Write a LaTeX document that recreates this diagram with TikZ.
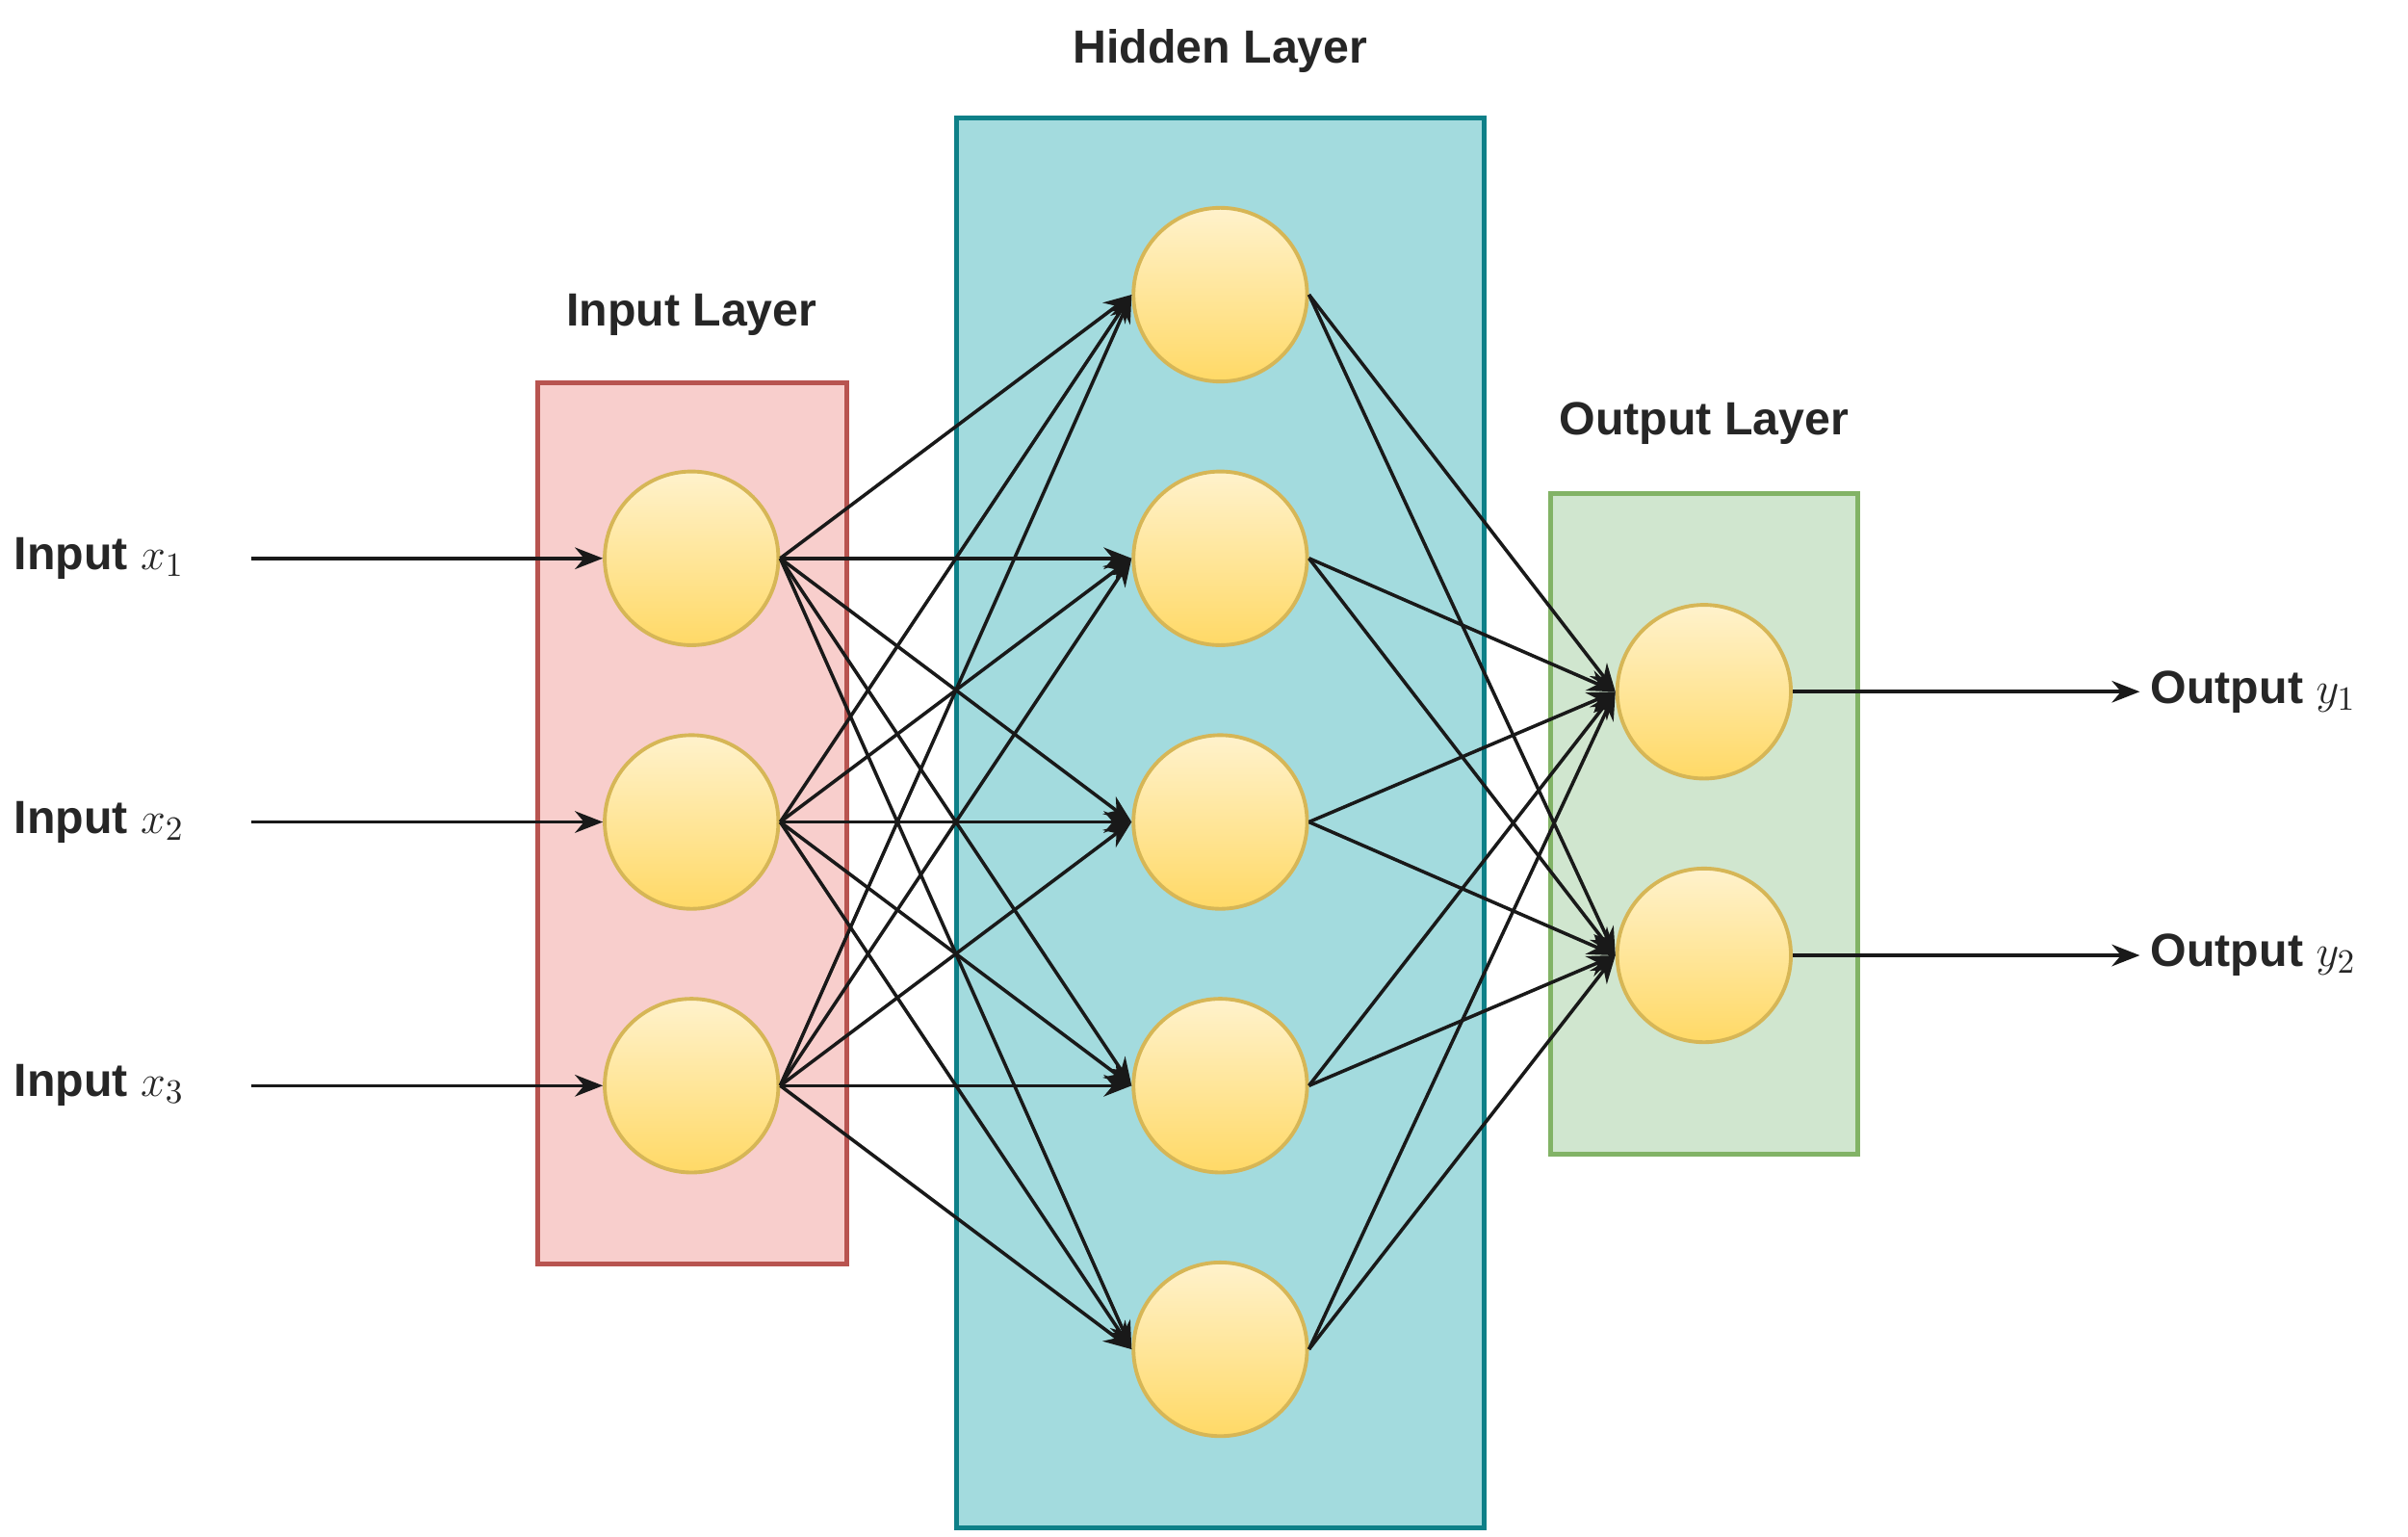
\documentclass[tikz,border=0pt]{standalone}
\usepackage{fontspec}
\setmainfont{Liberation Sans}
\usetikzlibrary{arrows.meta}
\definecolor{nfill1}{HTML}{FFF2CC}
\definecolor{nfill2}{HTML}{FFD966}
\definecolor{nline}{HTML}{D6B656}
\definecolor{inF}{HTML}{F8CECC}\definecolor{inL}{HTML}{B85450}
\definecolor{hiF}{HTML}{A3DBDE}\definecolor{hiL}{HTML}{0E8088}
\definecolor{ouF}{HTML}{D0E6CF}\definecolor{ouL}{HTML}{82B366}
\begin{document}
\begin{tikzpicture}[x=0.5pt,y=-0.5pt,
 neuron/.style={circle,minimum size=56pt,inner sep=0pt,draw=nline,line width=1.2pt,top color=nfill1,bottom color=nfill2},
 layer/.style={line width=1.5pt},
 lbl/.style={font=\bfseries\fontsize{15}{18}\selectfont,text=black!85},
 conn/.style={-{Stealth[length=9pt,width=7pt]},line width=1.1pt,black!90}]
\useasboundingbox (0,0) rectangle (1553,991);
\filldraw[layer,fill=inF,draw=inL] (347,247) rectangle (546,815);
\filldraw[layer,fill=hiF,draw=hiL] (617,76) rectangle (957,985);
\filldraw[layer,fill=ouF,draw=ouL] (1000,318) rectangle (1198,744);
\node[lbl] (tI) at (446,203) {Input Layer};
\node[lbl] (tH) at (787,33) {Hidden Layer};
\node[lbl] (tO) at (1099,273) {Output Layer};
\foreach \i/\y in {1/360,2/530,3/700}{
 \node[neuron] (i\i) at (446,\y) {};
 \node[lbl,anchor=west] (x\i) at (2,\y) {Input $x_{\i}$};
 \coordinate (s\i) at (162,\y);
 \draw[conn] (s\i) -- (i\i.west);
}
\foreach \j/\y in {1/190,2/360,3/530,4/700,5/870}{
 \node[neuron] (h\j) at (787,\y) {};
}
\foreach \k/\y in {1/446,2/616}{
 \node[neuron] (o\k) at (1099,\y) {};
 \node[lbl,anchor=west] (y\k) at (1380,\y) {Output $y_{\k}$};
 \draw[conn] (o\k.east) -- (y\k.west);
}
\foreach \i in {1,2,3}{\foreach \j in {1,...,5}{\draw[conn] (i\i.east) -- (h\j.west);}}
\foreach \j in {1,...,5}{\foreach \k in {1,2}{\draw[conn] (h\j.east) -- (o\k.west);}}
\end{tikzpicture}
\end{document}
